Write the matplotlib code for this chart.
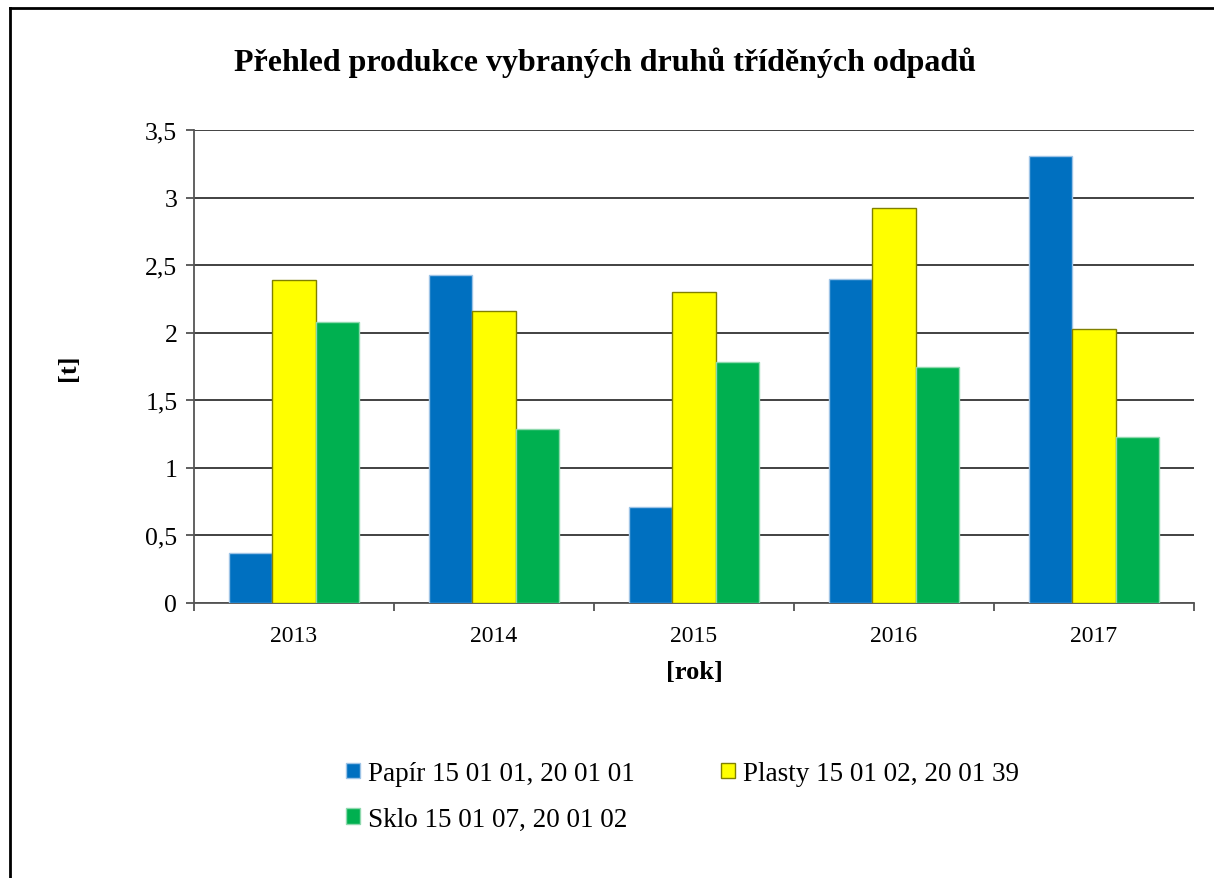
import matplotlib.pyplot as plt
import numpy as np

roky = ['2013', '2014', '2015', '2016', '2017']
papir = [0.37, 2.43, 0.71, 2.40, 3.31]
plasty = [2.39, 2.16, 2.30, 2.92, 2.03]
sklo = [2.08, 1.29, 1.78, 1.75, 1.23]

nazvy = ['Papír 15 01 01, 20 01 01', 'Plasty 15 01 02, 20 01 39', 'Sklo 15 01 07, 20 01 02']
barvy = ['#0070C0', '#FFFF00', '#00B050']
okraje = ['#9DC3E6', '#808000', '#8FD9AE']

plt.rcParams['font.family'] = ['Liberation Serif', 'DejaVu Serif']

fig = plt.figure(figsize=(12.14, 8.79), dpi=100)
ax = fig.add_axes([194 / 1214, 1 - 604 / 879, 1000 / 1214, 473 / 879])

x = np.arange(len(roky))
sirka = 0.217
sloupce = []
for i, (hodnoty, barva, okraj, nazev) in enumerate(zip([papir, plasty, sklo], barvy, okraje, nazvy)):
    b = ax.bar(x + (i - 1) * sirka, hodnoty, sirka, color=barva, edgecolor=okraj,
               linewidth=1, label=nazev, zorder=3)
    sloupce.append(b)

ax.set_xlim(-0.5, len(roky) - 0.5)
ax.set_ylim(0, 3.5)
ax.set_yticks(np.arange(0, 3.51, 0.5))
ax.set_yticklabels([('%g' % v).replace('.', ',') for v in np.arange(0, 3.51, 0.5)], fontsize=18.5)
ax.set_xticks(x)
ax.set_xticklabels(roky, fontsize=17)
ax.set_xticks(np.arange(-0.5, len(roky)), minor=True)
ax.tick_params(axis='x', which='major', length=0, pad=16)
ax.tick_params(axis='x', which='minor', length=6, width=1.2, color='#444444')
ax.tick_params(axis='y', length=6, width=1.2, color='#444444', pad=6)
ax.grid(axis='y', color='#333333', linewidth=1.3, zorder=0)
for s in ['top', 'right']:
    ax.spines[s].set_visible(False)
for s in ['left', 'bottom']:
    ax.spines[s].set_color('#555555')
    ax.spines[s].set_linewidth(1.3)

ax.set_xlabel('[rok]', fontsize=19, fontweight='bold', labelpad=10)
ax.set_ylabel('[t]', fontsize=19, fontweight='bold', labelpad=0)
ax.yaxis.set_label_coords(-0.114, 0.5)

fig.text(605 / 1214, 1 - 63 / 879, 'Přehled produkce vybraných druhů tříděných odpadů',
         ha='center', va='center', fontsize=23, fontweight='bold')

# legenda po radcich: Papir, Plasty / Sklo
poradi = [0, 2, 1]
fig.legend([sloupce[k] for k in poradi], [nazvy[k] for k in poradi],
           loc='upper left', bbox_to_anchor=(322 / 1214, 1 - 738 / 879), ncol=2,
           frameon=False, fontsize=19.5, handlelength=0.5, handleheight=0.5,
           handletextpad=0.3, columnspacing=3.2, labelspacing=0.75)

# ramecek kolem grafu
fig.add_artist(plt.Line2D([10 / 1214, 10 / 1214], [0, 1 - 9 / 879], color='black', linewidth=2))
fig.add_artist(plt.Line2D([10 / 1214, 1], [1 - 9 / 879, 1 - 9 / 879], color='black', linewidth=2))

plt.savefig('out.png', dpi=100)
plt.close()
